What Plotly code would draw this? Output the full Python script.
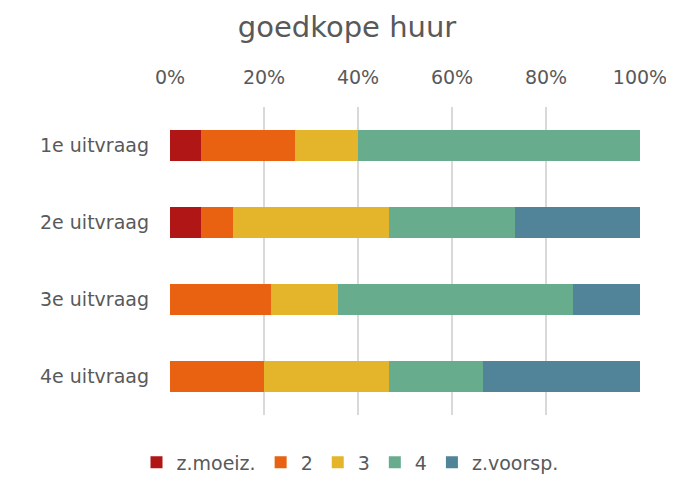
import plotly.graph_objects as go

categories = ["1e uitvraag", "2e uitvraag", "3e uitvraag", "4e uitvraag"]
series_names = ["z.moeiz.", "2", "3", "4", "z.voorsp."]
s_zmoeiz = [6.67, 6.67, 0.0, 0.0]
s_2 = [20.0, 6.67, 21.43, 20.0]
s_3 = [13.33, 33.33, 14.29, 26.67]
s_4 = [60.0, 26.67, 50.0, 20.0]
s_zvoorsp = [0.0, 26.67, 14.29, 33.33]
series_values = [s_zmoeiz, s_2, s_3, s_4, s_zvoorsp]
colors = ["#B01616", "#E86212", "#E4B52A", "#68AC8E", "#528499"]

FONT = "DejaVu Sans"
GREY = "#595959"

fig = go.Figure()
for name, vals, col in zip(series_names, series_values, colors):
    fig.add_trace(go.Bar(
        y=categories, x=vals, name=name, orientation="h",
        marker=dict(color=col, line=dict(width=0)),
        hoverinfo="x+name",
    ))

# page body has an 8px margin, so figure coords = screen coords - 8
fig.update_layout(
    barmode="stack",
    bargap=0.6,
    width=674, height=485,
    paper_bgcolor="white", plot_bgcolor="white",
    margin=dict(l=162, r=42, t=99, b=74),
    title=dict(text="goedkope huur", x=339/674, xanchor="center", y=1 - 19/485,
               yanchor="middle", yref="container",
               font=dict(family=FONT, size=29, color=GREY)),
    font=dict(family=FONT, color=GREY, size=19),
    xaxis=dict(side="top", range=[0, 100], dtick=20, ticksuffix="%",
               showgrid=True, gridcolor="#D9D9D9", gridwidth=2,
               zeroline=False, showline=False, ticks="",
               automargin=False, ticklabelstandoff=18,
               tickfont=dict(family=FONT, size=19, color=GREY),
               fixedrange=True),
    yaxis=dict(autorange="reversed", showgrid=False, zeroline=False,
               showline=False, ticks="", ticklabelstandoff=20,
               automargin=False,
               tickfont=dict(family=FONT, size=19, color=GREY)),
    legend=dict(orientation="h", x=(342 - 162) / 470, xanchor="center",
                y=(411 - 459) / 312, yanchor="middle",
                font=dict(family=FONT, size=19, color=GREY),
                traceorder="normal", itemwidth=30),
)

fig.write_html("out.html")
